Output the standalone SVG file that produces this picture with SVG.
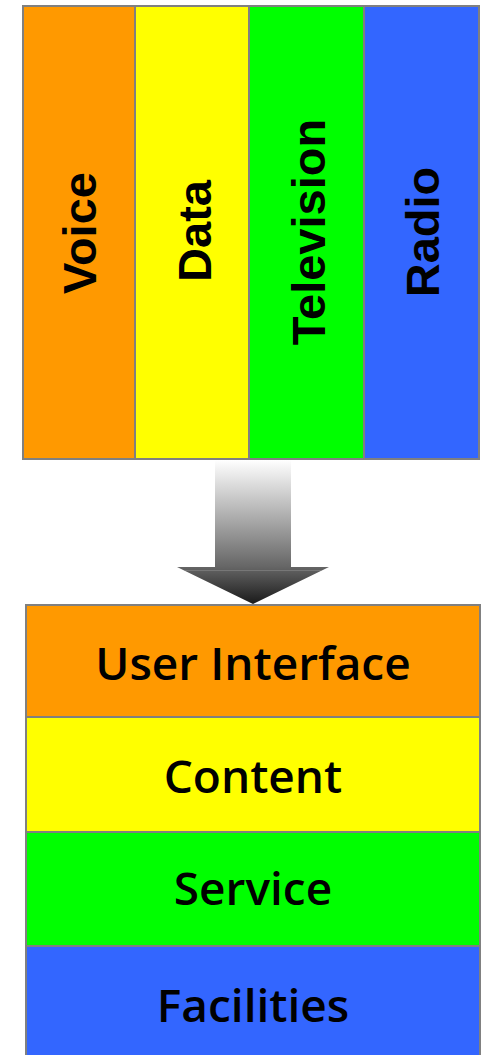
<svg xmlns="http://www.w3.org/2000/svg" width="481" height="1055" viewBox="0 0 481 1055">
<style>
.box{stroke:#808080;stroke-width:2}
.vt{font-family:"Liberation Sans",Arial,sans-serif;font-weight:bold;font-size:47px;fill:#000;text-anchor:middle}
.ht{font-family:"Open Sans","DejaVu Sans",sans-serif;font-weight:600;font-size:46px;fill:#000;text-anchor:middle}
</style>
<defs>
<linearGradient id="ag" gradientUnits="userSpaceOnUse" x1="0" y1="460" x2="0" y2="604">
<stop offset="0" stop-color="#ffffff"/>
<stop offset="0.74" stop-color="#666666"/>
<stop offset="1" stop-color="#1a1a1a"/>
</linearGradient>
</defs>
<rect width="481" height="1055" fill="#fff"/>
<g id="voice"><rect class="box" x="23" y="6" width="112" height="453" fill="#FF9900"/><text class="vt" transform="translate(96,233) rotate(-90)">Voice</text></g>
<g id="data"><rect class="box" x="135" y="6" width="114" height="453" fill="#FFFF00"/><text class="vt" transform="translate(211,231) rotate(-90)">Data</text></g>
<g id="television"><rect class="box" x="249" y="6" width="115" height="453" fill="#00FF00"/><text class="vt" transform="translate(325,232) rotate(-90)">Television</text></g>
<g id="radio"><rect class="box" x="364" y="6" width="115" height="453" fill="#3366FF"/><text class="vt" transform="translate(439,232) rotate(-90)">Radio</text></g>
<g id="connectors">
<path d="M215,460 H291 V567 H329 L253,604 L177,567 H215 Z" fill="url(#ag)"/>
<line x1="185" y1="570.5" x2="321" y2="570.5" stroke="#888" stroke-width="1" opacity="0.6"/>
</g>
<g id="user-interface"><rect class="box" x="26" y="605" width="454" height="112" fill="#FF9900"/><text class="ht" x="253" y="680">User Interface</text></g>
<g id="content"><rect class="box" x="26" y="717" width="454" height="115" fill="#FFFF00"/><text class="ht" x="253" y="793">Content</text></g>
<g id="service"><rect class="box" x="26" y="832" width="454" height="114" fill="#00FF00"/><text class="ht" x="253" y="905">Service</text></g>
<g id="facilities"><rect class="box" x="26" y="946" width="454" height="115" fill="#3366FF"/><text class="ht" x="253" y="1022">Facilities</text></g>
</svg>
